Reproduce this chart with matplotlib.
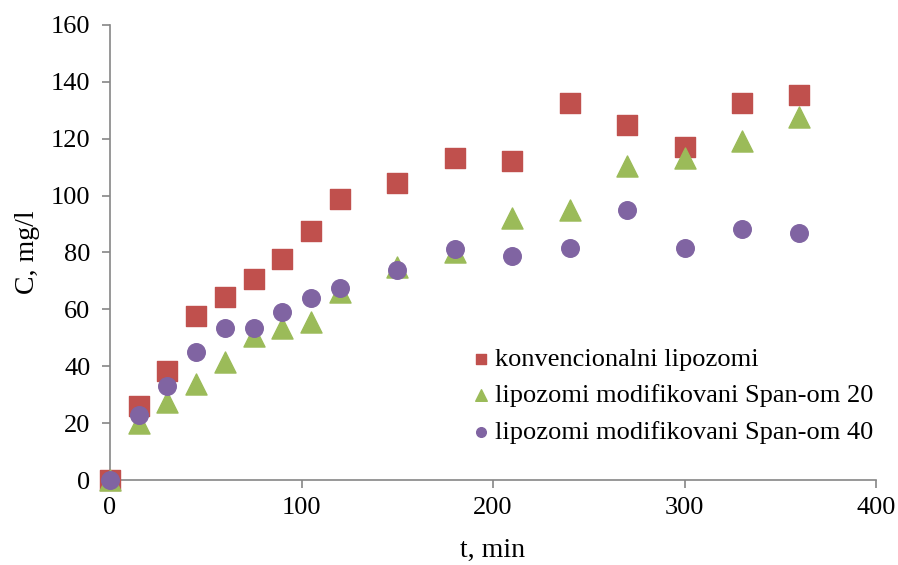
import matplotlib
matplotlib.use('Agg')
import matplotlib.pyplot as plt

# vrijeme uzorkovanja (min)
t = [0, 15, 30, 45, 60, 75, 90, 105, 120, 150, 180, 210, 240, 270, 300, 330, 360]

# koncentracija (mg/l)
konv = [0, 26, 38.3, 57.7, 64.3, 70.7, 77.7, 87.6, 98.8, 104.4, 113.2, 112.2,
        132.6, 124.8, 117, 132.6, 135.4]
span20 = [0, 20, 27.4, 33.8, 41.5, 50.6, 53.4, 55.6, 66, 75, 80.2, 92.1,
          95, 110.4, 113.2, 119.2, 127.6]
span40 = [0, 22.8, 33, 45, 53.4, 53.4, 59, 64, 67.5, 73.8, 81.2, 78.8,
          81.6, 95, 81.6, 88.3, 86.8]

labels = ['konvencionalni lipozomi',
          'lipozomi modifikovani Span-om 20',
          'lipozomi modifikovani Span-om 40']

plt.rcParams['font.family'] = 'Liberation Serif'

fig = plt.figure(figsize=(8.98, 5.65), dpi=100)
ax = fig.add_axes([0.1225, 0.1504, 0.853, 0.8054])

ax.scatter(t, konv, marker='s', s=200, color='#C0504D', label=labels[0], zorder=3, clip_on=False)
ax.scatter(t, span20, marker='^', s=230, color='#9BBB59', label=labels[1], zorder=4, clip_on=False)
ax.scatter(t, span40, marker='o', s=160, color='#8064A2', label=labels[2], zorder=5, clip_on=False)

ax.set_xlim(0, 400)
ax.set_ylim(0, 160)
ax.set_xticks(range(0, 401, 100))
ax.set_yticks(range(0, 161, 20))

for side in ['top', 'right']:
    ax.spines[side].set_visible(False)
for side in ['left', 'bottom']:
    ax.spines[side].set_color('#868686')
    ax.spines[side].set_linewidth(1.2)
ax.tick_params(colors='#868686', labelcolor='black', labelsize=19, length=6, width=1.2)
ax.tick_params(axis='x', pad=6)
ax.tick_params(axis='y', pad=8)

ax.set_xlabel('t, min', fontsize=20, labelpad=14)
ax.set_ylabel('C, mg/l', fontsize=20, labelpad=8)

ax.legend(loc='upper left', bbox_to_anchor=(0.455, 0.315), frameon=False, fontsize=19,
          markerscale=0.55, handletextpad=0.1, handlelength=0.9, labelspacing=0.5,
          borderaxespad=0)

fig.savefig('out.png', dpi=100)
